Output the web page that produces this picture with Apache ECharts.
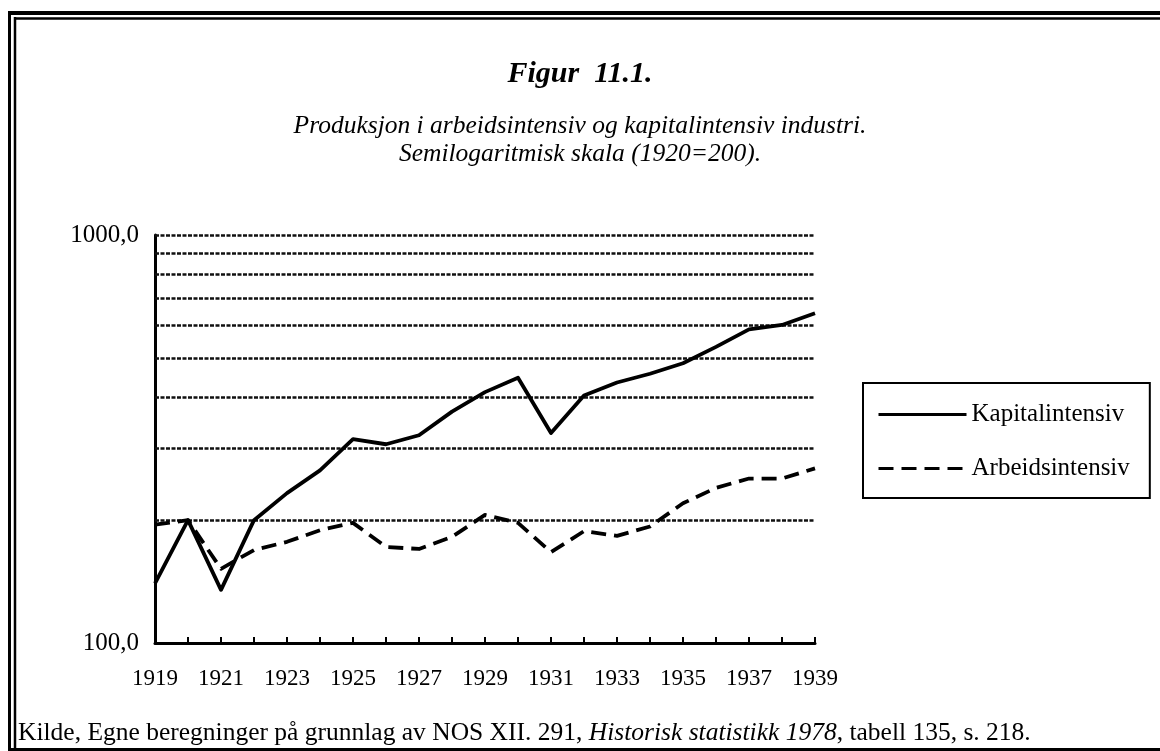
<!DOCTYPE html>
<html>
<head>
<meta charset="utf-8">
<script src="https://cdn.jsdelivr.net/npm/echarts@6/dist/echarts.min.js"></script>
<style>
  html, body { margin: 0; padding: 0; background: #fff; }
  #J_Chart { width: 1160px; height: 751px; }
</style>
</head>
<body>
<div id="J_Chart"></div>
<script>
// aar og indekser (1920=200), lest av figuren
var years = ['1919','1920','1921','1922','1923','1924','1925','1926','1927','1928','1929',
             '1930','1931','1932','1933','1934','1935','1936','1937','1938','1939'];
var kapital = [140, 200, 135, 200, 233, 265, 316, 307, 323, 369, 412,
               447, 327, 404, 435, 457, 485, 532, 587, 602, 643];
var arbeid = [195, 200, 152, 169, 177, 189, 197, 172, 170, 182, 206,
              197, 167, 188, 183, 193, 220, 240, 253, 253, 268];
var gridValues = [200, 300, 400, 500, 600, 700, 800, 900, 1000];

var serif = '"Liberation Serif", "DejaVu Serif", serif';

var chart = echarts.init(document.getElementById('J_Chart'));

var gridLines = [];
for (var i = 0; i < gridValues.length; i++) {
    gridLines.push({ yAxis: gridValues[i] });
}

var subStyle = { fontFamily: serif, fontSize: 25.5, fontWeight: 'normal', fontStyle: 'italic', color: '#000' };

var option = {
    backgroundColor: '#fff',
    animation: false,
    title: [{
        text: 'Figur  11.1.',
        left: 'center',
        top: 54,
        textStyle: { fontFamily: serif, fontSize: 30, fontWeight: 'bold', fontStyle: 'italic', color: '#000' }
    }, {
        text: 'Produksjon i arbeidsintensiv og kapitalintensiv industri.',
        left: 'center',
        top: 108,
        textStyle: subStyle
    }, {
        text: 'Semilogaritmisk skala (1920=200).',
        left: 'center',
        top: 136,
        textStyle: subStyle
    }],
    legend: {
        orient: 'vertical',
        left: 863,
        top: 383,
        padding: [19, 20, 17, 14],
        itemGap: 29,
        itemWidth: 88,
        itemHeight: 20,
        borderColor: '#000',
        borderWidth: 2,
        borderRadius: 0,
        itemStyle: { opacity: 0 },
        lineStyle: { width: 3 },
        textStyle: { fontFamily: serif, fontSize: 25, color: '#000' },
        data: ['Kapitalintensiv', 'Arbeidsintensiv']
    },
    grid: { left: 155, right: 345, top: 235, bottom: 108 },
    xAxis: {
        type: 'category',
        data: years,
        boundaryGap: false,
        axisLine: { lineStyle: { color: '#000', width: 3 } },
        axisTick: { inside: true, length: 6, interval: 0, lineStyle: { color: '#000', width: 2 } },
        axisLabel: { interval: 1, margin: 24, fontFamily: serif, fontSize: 23, color: '#000' },
        splitLine: { show: false }
    },
    yAxis: {
        type: 'log',
        logBase: 10,
        min: 100,
        max: 1000,
        axisLine: { show: true, lineStyle: { color: '#000', width: 3 } },
        axisTick: { show: false },
        axisLabel: {
            margin: 16,
            fontFamily: serif, fontSize: 25, color: '#000',
            formatter: function (v) { return v.toFixed(1).replace('.', ','); }
        },
        splitLine: { show: false }
    },
    series: [{
        name: 'Kapitalintensiv',
        type: 'line',
        data: kapital,
        symbol: 'none',
        z: 3,
        lineStyle: { color: '#000', width: 3.8, join: 'round' },
        itemStyle: { color: '#000' },
        markLine: {
            silent: true,
            symbol: 'none',
            label: { show: false },
            z: 1,
            lineStyle: { color: '#111', width: 2.5, type: [4, 1.5] },
            data: gridLines
        }
    }, {
        name: 'Arbeidsintensiv',
        type: 'line',
        data: arbeid,
        symbol: 'none',
        z: 3,
        lineStyle: { color: '#000', width: 3.8, type: [15, 8], join: 'round' },
        itemStyle: { color: '#000' }
    }],
    graphic: [
        // rammen rundt figuren
        { type: 'line', shape: { x1: 8, y1: 13, x2: 1160, y2: 13 }, style: { stroke: '#000', lineWidth: 4 } },
        { type: 'line', shape: { x1: 15, y1: 18.5, x2: 1160, y2: 18.5 }, style: { stroke: '#000', lineWidth: 2.5 } },
        { type: 'line', shape: { x1: 9.5, y1: 11, x2: 9.5, y2: 751 }, style: { stroke: '#000', lineWidth: 3 } },
        { type: 'line', shape: { x1: 15, y1: 17, x2: 15, y2: 751 }, style: { stroke: '#000', lineWidth: 2.5 } },
        { type: 'line', shape: { x1: 8, y1: 749.5, x2: 1160, y2: 749.5 }, style: { stroke: '#000', lineWidth: 3 } },
        {
            type: 'text',
            left: 18,
            top: 720,
            style: {
                text: '{a|Kilde, Egne beregninger på grunnlag av NOS XII. 291, }{i|Historisk statistikk 1978}{a|, tabell 135, s. 218.}',
                rich: {
                    a: { fontFamily: serif, fontSize: 25.5, fill: '#000' },
                    i: { fontFamily: serif, fontSize: 25.5, fontStyle: 'italic', fill: '#000' }
                }
            }
        }
    ]
};

chart.setOption(option);
</script>
</body>
</html>
